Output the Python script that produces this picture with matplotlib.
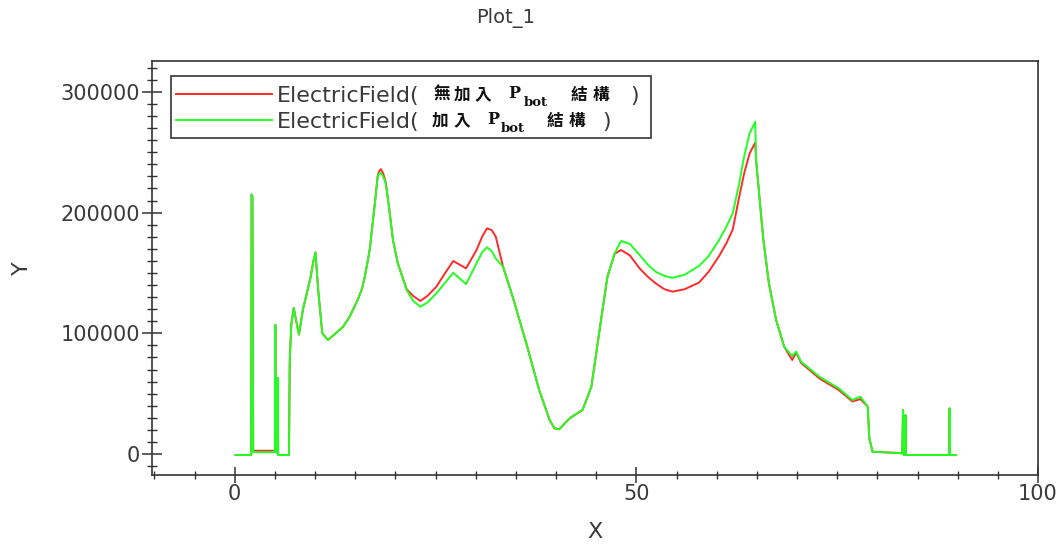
import matplotlib
matplotlib.use("Agg")
import matplotlib.pyplot as plt
from matplotlib.patches import Rectangle
from matplotlib.lines import Line2D
from matplotlib.ticker import MultipleLocator

# ---- data -------------------------------------------------------------
position = [
    0.1, 2.05, 2.1, 2.2, 2.3, 5.0, 5.05, 5.1, 5.3, 5.35,
    5.4, 6.75, 6.85, 7.05, 7.35, 7.6, 8.0, 8.5, 9.0, 9.4,
    9.8, 10.05, 10.4, 10.9, 11.6, 12.5, 13.5, 14.3, 15.3, 15.8,
    16.2, 16.8, 17.4, 17.8, 18.0, 18.2, 18.5, 18.8, 19.2, 19.7,
    20.3, 21.4, 22.2, 23.1, 24.0, 25.1, 26.2, 27.2, 28.8, 30.1,
    30.8, 31.4, 32.0, 32.5, 33.4, 34.6, 36.3, 37.9, 39.2, 39.8,
    40.4, 41.7, 43.3, 44.4, 45.0, 45.6, 46.4, 47.3, 48.1, 49.2,
    50.4, 51.4, 52.4, 53.5, 54.5, 56.0, 57.8, 59.0, 60.3, 61.2,
    62.0, 62.8, 63.4, 64.1, 64.8, 64.9, 65.8, 66.5, 67.4, 68.4,
    69.4, 69.9, 70.5, 72.8, 75.2, 76.9, 77.9, 78.8, 79.0, 79.4,
    83.1, 83.2, 83.3, 83.45, 83.5, 83.55, 88.95, 89.0, 89.05, 89.8,
]

field_without_pbot = [
    -800, -800, 215000, 213000, 2700, 2700, 107000, 1500, 1500, 63000,
    -800, -800, 78000, 108000, 121000, 112000, 99000, 120000, 134000, 145000,
    160000, 167000, 135000, 100000, 94500, 99500, 105500, 113700, 127600, 136000,
    146900, 169000, 204900, 230500, 234500, 236000, 232000, 225000, 204900, 177300,
    158000, 136500, 131000, 126800, 131000, 138600, 150000, 159900, 153800, 169000,
    180000, 187000, 185500, 180000, 155200, 130300, 91700, 53000, 28200, 21300,
    20500, 29600, 36500, 55800, 83400, 111000, 146900, 166000, 169000, 164500,
    153800, 147000, 141400, 136500, 134500, 136500, 142000, 151000, 164000, 174600,
    186000, 213000, 232000, 249100, 258000, 243600, 178000, 141400, 111000, 88900,
    77900, 84000, 75500, 62500, 53000, 43500, 45500, 39200, 13000, 1900,
    600, 36500, -800, -800, 32300, -800, -800, 37800, -800, -800,
]

field_with_pbot = [
    -800, -800, 215000, 213000, 1500, 1500, 107000, 1500, 1500, 63000,
    -800, -800, 78000, 108000, 121000, 112000, 99000, 120000, 134000, 145000,
    160000, 167000, 135000, 100000, 94500, 99500, 105500, 113700, 127600, 136000,
    146900, 169000, 204900, 229700, 232500, 233000, 229500, 224300, 204900, 177300,
    158000, 135900, 127000, 122000, 125500, 133100, 142000, 150200, 140800, 158000,
    167000, 171300, 168000, 162000, 155200, 130300, 91700, 53000, 28200, 21300,
    20500, 29600, 36500, 55800, 83400, 111000, 146900, 166300, 176500, 174000,
    164900, 157000, 151000, 147500, 146000, 148500, 155800, 164000, 177300, 188300,
    199400, 224000, 246000, 265700, 275300, 243600, 178000, 141400, 111000, 88900,
    81200, 84800, 76500, 64000, 54400, 44700, 47500, 39200, 13000, 1900,
    600, 36500, -800, -800, 32300, -800, -800, 37800, -800, -800,
]

x_ticks = [0, 50, 100]
y_ticks = [0, 100000, 200000, 300000]

RED = "#ff2a2a"
GREEN = "#22ff22"
INK = "#3a3a3a"
W, H = 1060, 544

plt.rcParams["font.family"] = ["DejaVu Sans", "Noto Sans CJK TC"]

fig = plt.figure(figsize=(W / 100, H / 100), dpi=100)
ax = fig.add_axes([152 / W, 1 - 475 / H, 886 / W, 414 / H])

ax.plot(position, field_without_pbot, color=RED, lw=1.4, zorder=3)
ax.plot(position, field_with_pbot, color=GREEN, lw=1.4, zorder=4)

ax.set_xlim(-10.3, 100)
ax.set_ylim(-17400, 325600)
ax.set_xticks(x_ticks)
ax.set_yticks(y_ticks)
ax.xaxis.set_minor_locator(MultipleLocator(5))
ax.yaxis.set_minor_locator(MultipleLocator(10000))

for side in ["left", "bottom", "top", "right"]:
    ax.spines[side].set_color("#333333")
    ax.spines[side].set_linewidth(1.2)

ax.tick_params(axis="x", which="major", direction="inout", length=11.5,
               width=1.1, colors="#333333", labelcolor=INK, labelsize=15, pad=1)
ax.tick_params(axis="x", which="minor", direction="inout", length=6,
               width=1.0, colors="#333333")
ax.tick_params(axis="y", which="major", direction="inout", length=15,
               width=1.1, colors="#333333", labelcolor=INK, labelsize=15, pad=1)
ax.tick_params(axis="y", which="minor", direction="inout", length=6.5,
               width=1.0, colors="#333333")

ax.set_xlabel("X", fontsize=16, color=INK, va="center")
ax.xaxis.set_label_coords(0.5, (475 - 532) / 414)
ax.set_ylabel("Y", fontsize=16, color=INK, va="center")
ax.yaxis.set_label_coords((22 - 152) / 886, 0.5)

fig.text(506 / W, 1 - 18 / H, "Plot_1", ha="center", va="center",
         fontsize=14, color=INK)


# ---- legend ---------------------------------------------------------------
def fx(px):
    return px / W


def fy(py):
    return 1 - py / H


fig.patches.append(Rectangle((fx(171), fy(138)), fx(651) - fx(171),
                             fy(76) - fy(138), transform=fig.transFigure,
                             facecolor="white", edgecolor="#444444",
                             linewidth=1.3, zorder=10))

rows = [
    (94, RED, ["無", "加", "入"], [434, 454, 475], 508, 524, 571, 630),
    (120, GREEN, ["加", "入"], [432, 454], 487, 501, 547, 602),
]
for py, color, chars, char_x, p_x, sub_x, struct_x, close_x in rows:
    fig.lines.append(Line2D([fx(176), fx(272)], [fy(py), fy(py)],
                            transform=fig.transFigure, color=color,
                            lw=1.4, zorder=11))
    fig.text(fx(277), fy(py), "ElectricField(", fontsize=16, color=INK,
             ha="left", va="center_baseline", zorder=11)
    for ch, cx in zip(chars, char_x):
        fig.text(fx(cx), fy(py + 1), ch, fontsize=12, fontweight="bold",
                 family="Noto Sans CJK TC", color="#111111",
                 ha="left", va="center", zorder=11)
    fig.text(fx(p_x), fy(py), "P", fontsize=11.5, fontweight="bold",
             family="DejaVu Serif", color="#111111",
             ha="left", va="center", zorder=11)
    fig.text(fx(sub_x), fy(py + 8), "bot", fontsize=9.5, fontweight="bold",
             family="DejaVu Serif", color="#111111",
             ha="left", va="center", zorder=11)
    fig.text(fx(struct_x), fy(py + 1), "結", fontsize=12, fontweight="bold",
             family="Noto Sans CJK TC", color="#111111",
             ha="left", va="center", zorder=11)
    fig.text(fx(struct_x + 22), fy(py + 1), "構", fontsize=12,
             fontweight="bold", family="Noto Sans CJK TC", color="#111111",
             ha="left", va="center", zorder=11)
    fig.text(fx(close_x), fy(py), ")", fontsize=16, color=INK,
             ha="left", va="center_baseline", zorder=11)

fig.savefig("out.png", dpi=100, facecolor="white")
